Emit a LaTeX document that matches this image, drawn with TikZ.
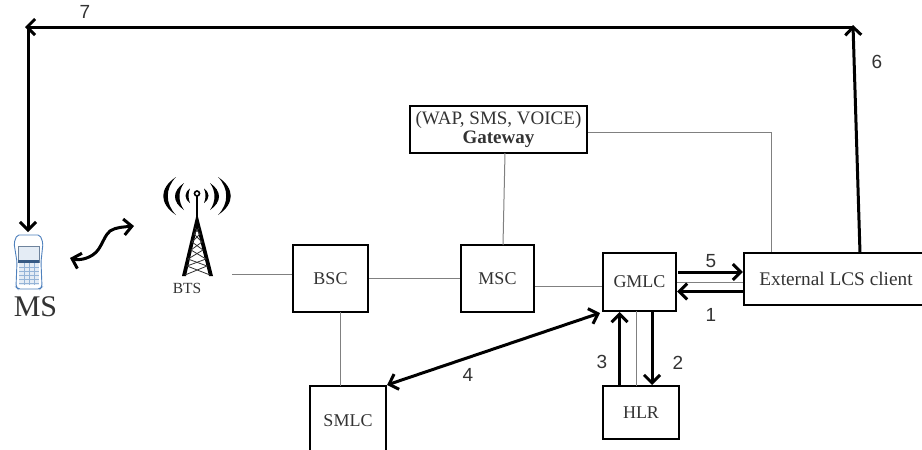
\documentclass[tikz,border=0pt]{standalone}
\usepackage{fontspec}
\setmainfont{Liberation Serif}
\newfontfamily\numfont{Liberation Sans}
\usetikzlibrary{arrows.meta}
\definecolor{txt}{HTML}{333333}
\definecolor{thin}{HTML}{808080}
\definecolor{phoneblue}{HTML}{4F81BD}
\tikzset{
  x=1pt,y=-1pt,
  boxn/.style={draw=black,line width=2.1pt,fill=white,text=txt,font=\fontsize{18}{19}\selectfont,align=center,inner sep=0pt},
  thinline/.style={draw=thin,line width=1pt},
  heavy/.style={draw=black,line width=3pt,arrows={-Straight Barb[length=8pt,width=16pt,line width=3pt]}},
  heavyboth/.style={draw=black,line width=3pt,arrows={Straight Barb[length=8pt,width=16pt,line width=3pt]-Straight Barb[length=8pt,width=16pt,line width=3pt]}},
  numlabel/.style={text=txt,font=\numfont\fontsize{19}{20}\selectfont,inner sep=0pt},
}
\begin{document}
\begin{tikzpicture}
\useasboundingbox (0,0) rectangle (922,450);
\clip (0,0) rectangle (922,450);
\fill[white] (0,0) rectangle (922,450);

% boxes
\node[boxn,font=\fontsize{19}{19}\selectfont,minimum width=177pt,minimum height=47pt] (gw) at (498.5,129.5) {\raisebox{-1.5pt}{(WAP, SMS, VOICE)}\\\raisebox{-1.5pt}{\textbf{Gateway}}};
\node[boxn,minimum width=75pt,minimum height=67pt] (bsc) at (330.5,278.5) {BSC};
\node[boxn,minimum width=73pt,minimum height=67pt] (msc) at (497.5,278.5) {MSC};
\node[boxn,minimum width=76pt,minimum height=70pt] (smlc) at (348,421) {SMLC};
\node[boxn,minimum width=73pt,minimum height=58pt] (gmlc) at (639.5,282) {GMLC};
\node[boxn,minimum width=76pt,minimum height=53pt] (hlr) at (641,412.5) {HLR};
\node[boxn,font=\fontsize{19.3}{20}\selectfont,minimum width=184pt,minimum height=52pt] (lcs) at (836,279) {External LCS client};

% free ends
\coordinate (btsend) at (232,274);
\coordinate (corner6) at (853,25);
\coordinate (topleft) at (25,27);
\coordinate (topright) at (853,27);
\coordinate (msend) at (28,232);
\coordinate (mscorner) at (28,27);
\coordinate (gwcorner) at (771,132);
\coordinate (sq1) at (70,258);
\coordinate (sq2) at (134,226);

% thin connectors
\draw[thinline] (btsend) -- (bsc.west |- btsend);
\draw[thinline] (bsc.east |- 0,278) -- (msc.west |- 0,278);
\draw[thinline] (msc.east |- 0,286) -- (gmlc.west |- 0,286);
\draw[thinline] (505,153) -- (503,245);
\draw[thinline] (340.5,312) -- (340.5,386);
\draw[thinline] (gw.east |- gwcorner) -- (gwcorner) -- (gwcorner |- lcs.north);
\draw[thinline] (gmlc.east |- 0,282) -- (lcs.west |- 0,282);
\draw[thinline] (636,311) -- (636,386);

% heavy arrows
\draw[heavy] (678,272) -- (lcs.west |- 0,272);
\draw[heavy] (lcs.west |- 0,291.5) -- (gmlc.east |- 0,291.5);
\draw[heavy] (652,311) -- (652,385);
\draw[heavy] (619.5,386) -- (619.5,312);
\draw[heavyboth] (smlc.north east) -- (600,313);
\draw[heavy] (860,253) -- (corner6);
\draw[heavy] (topright) -- (topleft);
\draw[heavy] (mscorner) -- (msend);
\draw[heavyboth] (sq1) .. controls (80,261) and (92,258) .. (98,250)
   .. controls (103,243) and (105,235) .. (110,231)
   .. controls (116,227) and (124,227) .. (sq2);

% labels
\node[numlabel] (n7) at (85,12) {7};
\node[numlabel] (n6) at (877,62) {6};
\node[numlabel] (n5) at (711,261) {5};
\node[numlabel] (n1) at (711,315) {1};
\node[numlabel] (n2) at (678,363) {2};
\node[numlabel] (n3) at (602,362) {3};
\node[numlabel] (n4) at (468,375) {4};
\node[text=txt,font=\fontsize{15.5}{16}\selectfont,inner sep=0pt] (btslabel) at (187,288.5) {BTS};
\node[text=txt,font=\fontsize{30}{30}\selectfont,inner sep=0pt] (mslabel) at (35.5,306.5) {MS};

% phone
\draw[phoneblue,line width=0.9pt,fill=white,rounded corners=2pt] (17,235) -- (40,235) -- (43,243) -- (41,262) -- (42,287) -- (40,289) -- (18,289) -- (16,287) -- (17,262) -- (14,243) -- cycle;
\fill[phoneblue!15] (18,246) rectangle (39,260);
\draw[phoneblue!60!black!70,line width=0.6pt] (18.5,246) rectangle (39,262);
\fill[phoneblue!70!black] (18,260) rectangle (39,262.5);
\fill[phoneblue!15] (19,263) -- (39,263) -- (39,285) -- (19,285) -- cycle;
\foreach \yy in {267,271,275,279,283} \draw[phoneblue!60,line width=0.4pt] (19,\yy) -- (39,\yy);
\foreach \xx in {24,29,34} \draw[phoneblue!60,line width=0.4pt] (\xx,263) -- (\xx,285);

% tower
\fill[black] (197,213) -- (213,276) -- (209,276) -- (197,228) -- (186,276) -- (182,276) -- cycle;
\draw[black,line width=1.8pt] (197,196) -- (197,216);
\draw[black,line width=1.6pt] (197,193.5) circle (2.5pt);
\draw[black!80,line width=0.8pt] (195,228) -- (200,234) -- (192,242) -- (203,250) -- (188,259) -- (207,266) -- (185,275);
\draw[black!80,line width=0.8pt] (199,228) -- (194,234) -- (202,242) -- (191,250) -- (206,259) -- (187,266) -- (210,275);
% waves: tip offset / top / bottom / outer control / inner control
\foreach \td/\yt/\yb/\oc/\ic in {21/177/215/38/32,13/183/210/25/19,7/188.5/203/13/9}{
  \fill[black] ({197-\td},\yt) .. controls ({197-\oc},{\yt+0.3*(\yb-\yt)}) and ({197-\oc},{\yt+0.7*(\yb-\yt)}) .. ({197-\td},\yb)
     .. controls ({197-\ic},{\yt+0.7*(\yb-\yt)}) and ({197-\ic},{\yt+0.3*(\yb-\yt)}) .. cycle;
  \fill[black] ({197+\td},\yt) .. controls ({197+\oc},{\yt+0.3*(\yb-\yt)}) and ({197+\oc},{\yt+0.7*(\yb-\yt)}) .. ({197+\td},\yb)
     .. controls ({197+\ic},{\yt+0.7*(\yb-\yt)}) and ({197+\ic},{\yt+0.3*(\yb-\yt)}) .. cycle;
}
\end{tikzpicture}
\end{document}
